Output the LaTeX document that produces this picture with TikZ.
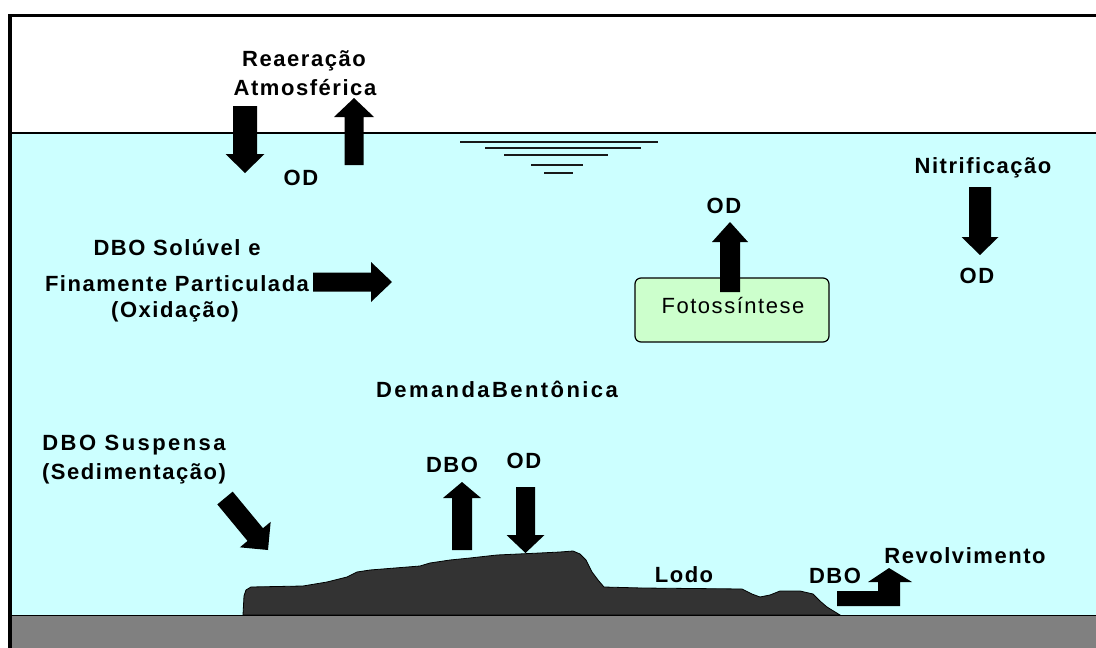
\documentclass[tikz,border=0pt]{standalone}
\usepackage{fontspec}
\setmainfont{Liberation Sans}
\newfontfamily\lblfont[LetterSpace=7]{Liberation Sans}
\usetikzlibrary{calc}
\definecolor{water}{HTML}{CCFFFF}
\definecolor{leaf}{HTML}{CCFFCC}
\definecolor{mud}{HTML}{333333}
\definecolor{ground}{HTML}{808080}
\tikzset{
  lbl/.style={inner sep=0pt, anchor=base, font=\lblfont\bfseries\fontsize{22}{24}\selectfont},
  lblwide/.style={inner sep=0pt, anchor=base, font=\lblfont\bfseries\fontsize{22}{24}\selectfont\addfontfeature{LetterSpace=11}},
  plainlbl/.style={inner sep=0pt, anchor=base, font=\lblfont\fontsize{22}{24}\selectfont},
  arrowfill/.style={fill=black},
  ripple/.style={draw=black!90, line width=2pt},
  photobox/.style={draw=black, line width=1.2pt, fill=leaf, rounded corners=6pt,
    minimum width=194pt, minimum height=64pt, inner sep=0pt},
  mudstyle/.style={fill=mud, draw=black, line width=0.8pt},
}
% block arrow: #1 tail, #2 tip, #3 shaft half width, #4 head half width, #5 head length
\newcommand{\blkarrow}[5]{%
  \coordinate (bah) at ($(#2)!#5!(#1)$);
  \fill[arrowfill] ($(#1)!#3!90:(#2)$) -- ($(bah)!#3!-90:(#1)$) -- ($(bah)!#4!-90:(#1)$)
    -- (#2) -- ($(bah)!#4!90:(#1)$) -- ($(bah)!#3!90:(#1)$) -- ($(#1)!#3!-90:(#2)$) -- cycle;
}
\begin{document}
\begin{tikzpicture}[x=1pt,y=-1pt]
\useasboundingbox (0,0) rectangle (1096,648);
\fill[white] (0,0) rectangle (1096,648);
% water
\fill[water] (10,133) rectangle (1096,615);
\draw[line width=1.6pt] (10,133) -- (1096,133);
% ground
\fill[ground] (10,615) rectangle (1096,648);
% mud
\path[mudstyle] (243,615) -- (244,596) -- (246,590) -- (251,587) -- (303,586) -- (327,582)
  -- (347,577) -- (357,572) -- (370,570) -- (420,566) -- (430,563) -- (450,560) -- (470,558)
  -- (497,555) -- (540,553) -- (560,552) -- (573,551) -- (580,554) -- (586,560) -- (592,572)
  -- (598,580) -- (604,587) -- (642,588) -- (742,589) -- (752,594) -- (760,597) -- (770,595)
  -- (780,591) -- (800,591) -- (813,594) -- (820,601) -- (827,607) -- (840,615) -- cycle;
\draw[line width=1.8pt] (10,615.5) -- (1096,615.5);
% frame
\draw[line width=3.5pt] (10,648) -- (10,15.5) -- (1096,15.5);
% ripples
\draw[ripple] (460,141.5) -- (658,141.5);
\draw[ripple] (485,147.5) -- (641,147.5);
\draw[ripple] (504,155) -- (608,155);
\draw[ripple] (531,164.5) -- (583,164.5);
\draw[ripple] (544,172.5) -- (573,172.5);
% photosynthesis box
\node[photobox] (photo) at (732,310) {};
\node[plainlbl] (fotolbl) at (733,313) {Fotossíntese};
% arrows
\coordinate (a1t) at (245,106); \coordinate (a1h) at (245,173);
\coordinate (a2t) at (354,165); \coordinate (a2h) at (354,98);
\coordinate (a3t) at (980,187); \coordinate (a3h) at (980,255);
\coordinate (a4t) at (730,292); \coordinate (a4h) at (730,222);
\coordinate (a5t) at (313,282); \coordinate (a5h) at (392,282);
\coordinate (a6t) at (225,498); \coordinate (a6h) at (268,550);
\coordinate (a7t) at (462,550); \coordinate (a7h) at (462,482);
\coordinate (a8t) at (525.5,487); \coordinate (a8h) at (525.5,553);
\blkarrow{a1t}{a1h}{12pt}{19.5pt}{19pt}
\blkarrow{a2t}{a2h}{9.5pt}{20pt}{19pt}
\blkarrow{a3t}{a3h}{11pt}{18.5pt}{18pt}
\blkarrow{a4t}{a4h}{10pt}{18pt}{20pt}
\blkarrow{a5t}{a5h}{9.5pt}{20pt}{21pt}
\blkarrow{a6t}{a6h}{10pt}{20pt}{20pt}
\blkarrow{a7t}{a7h}{10pt}{19pt}{16pt}
\blkarrow{a8t}{a8h}{9.5pt}{19pt}{18pt}
% revolvimento arrow
\fill[arrowfill] (837,591) -- (878,591) -- (878,582) -- (868,582) -- (889,568) -- (912,582)
  -- (900,582) -- (900,606) -- (837,606) -- cycle;
% labels
\node[lbl] (rea1) at (304,66) {Reaeração};
\node[lbl] (rea2) at (305,95) {Atmosférica};
\node[lbl] (od1) at (301,185) {OD};
\node[lbl] (nit) at (983,173) {Nitrificação};
\node[lbl] (od2) at (977,283) {OD};
\node[lbl] (od3) at (724,213) {OD};
\node[lbl] (sol1) at (177,255) {DBO Solúvel e};
\node[lbl] (sol2) at (177,291) {Finamente Particulada};
\node[lbl] (sol3) at (175,317) {(Oxidação)};
\node[lblwide] (bent) at (497,397) {DemandaBentônica};
\node[lblwide] (susp1) at (134,450) {DBO Suspensa};
\node[lbl] (susp2) at (134,479) {(Sedimentação)};
\node[lbl] (dbo1) at (452,472) {DBO};
\node[lbl] (od4) at (524,468) {OD};
\node[lbl] (lodo) at (684,582) {Lodo};
\node[lbl] (dbo2) at (835,583) {DBO};
\node[lbl] (revol) at (965,563) {Revolvimento};
\end{tikzpicture}
\end{document}
